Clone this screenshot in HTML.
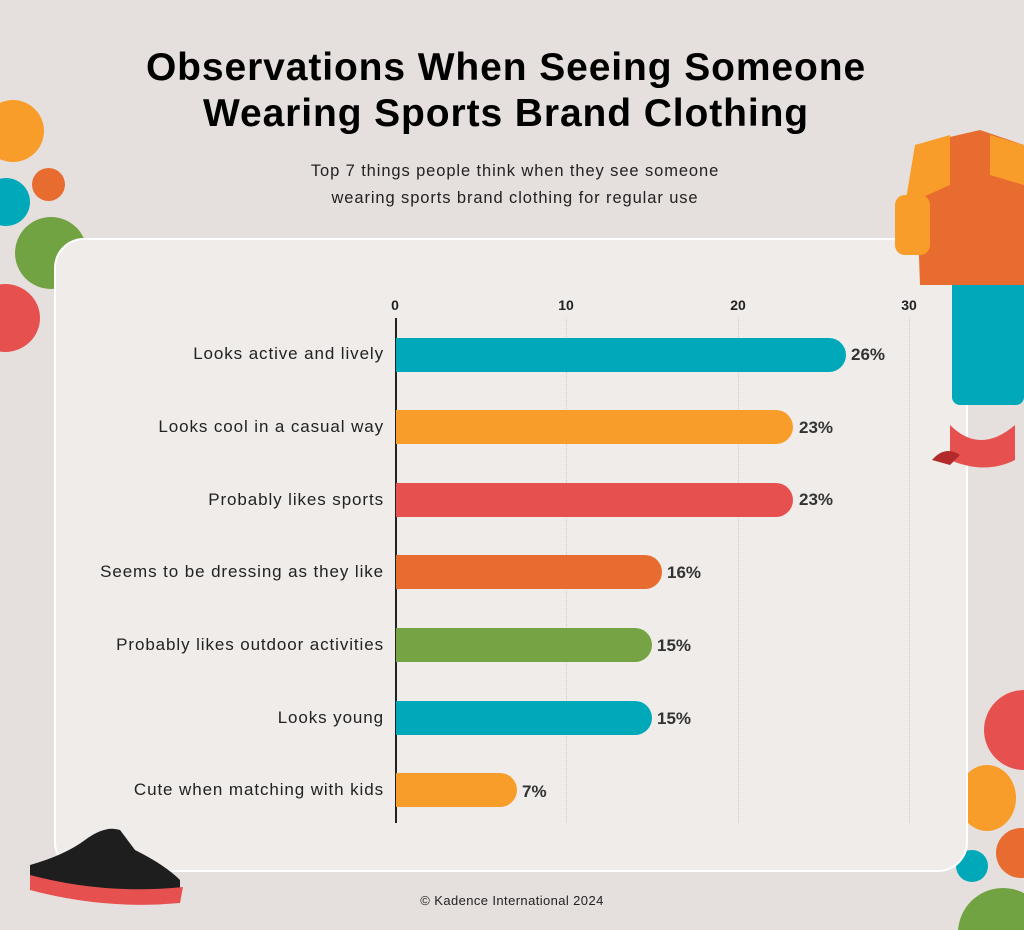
<!DOCTYPE html>
<html><head><meta charset="utf-8"><style>
html,body{margin:0;width:1024px;height:930px;overflow:hidden}
body{background:#e5e0dd;font-family:"Liberation Sans",sans-serif}
#w{position:relative;width:1024px;height:930px;overflow:hidden}
.c{position:absolute;border-radius:50%}
.card{position:absolute;left:54px;top:238px;width:914px;height:634px;background:#efecea;border:2px solid #fff;border-radius:30px;box-sizing:border-box}
h1{position:absolute;top:45px;left:0;width:1012px;text-align:center;margin:0;font-size:39px;line-height:46px;font-weight:bold;color:#000;letter-spacing:0.9px}
.sub{position:absolute;top:158px;left:0;width:1030px;text-align:center;font-size:16.5px;line-height:27px;color:#222;letter-spacing:0.9px}
.lbl{position:absolute;right:640px;font-size:17px;color:#222;text-align:right;white-space:nowrap;letter-spacing:0.9px}
.bar{position:absolute;left:396px;height:34px;border-radius:0 17px 17px 0}
.val{position:absolute;font-size:17px;font-weight:bold;color:#333}
.tk{position:absolute;top:297px;font-size:14px;color:#222;width:30px;text-align:center;font-weight:bold}
.grid{position:absolute;top:318px;height:505px;border-left:1px dotted #ccc}
</style></head><body><div id="w">
<div class="c" style="left:-18px;top:100px;width:62px;height:62px;background:#f99d2a"></div>
<div class="c" style="left:-18px;top:178px;width:48px;height:48px;background:#00a9b9"></div>
<div class="c" style="left:32px;top:168px;width:33px;height:33px;background:#e86c2f"></div>
<div class="c" style="left:15px;top:217px;width:72px;height:72px;background:#72a342"></div>
<div class="c" style="left:-30px;top:284px;width:70px;height:68px;background:#e65150"></div>
<div class="c" style="left:984px;top:690px;width:80px;height:80px;background:#e65150"></div>
<div class="c" style="left:958px;top:765px;width:58px;height:66px;background:#f99d2a"></div>
<div class="c" style="left:996px;top:828px;width:50px;height:50px;background:#e86c2f"></div>
<div class="c" style="left:956px;top:850px;width:32px;height:32px;background:#00a9b9"></div>
<div class="c" style="left:958px;top:888px;width:90px;height:90px;background:#72a342"></div>
<div class="card"></div>
<h1>Observations When Seeing Someone<br>Wearing Sports Brand Clothing</h1>
<div class="sub">Top 7 things people think when they see someone<br>wearing sports brand clothing for regular use</div>
<div class="tk" style="left:380px">0</div><div class="tk" style="left:551px">10</div><div class="tk" style="left:723px">20</div><div class="tk" style="left:894px">30</div>
<div class="grid" style="left:566px"></div><div class="grid" style="left:738px"></div><div class="grid" style="left:909px"></div>
<div style="position:absolute;left:395px;top:318px;width:2px;height:505px;background:#222"></div>
<div class="bar" style="top:338px;width:450px;background:#00a9b9"></div><div class="lbl" style="top:344px">Looks active and lively</div><div class="val" style="left:851px;top:345px">26%</div>
<div class="bar" style="top:410px;width:397px;background:#f99d2a"></div><div class="lbl" style="top:417px">Looks cool in a casual way</div><div class="val" style="left:799px;top:418px">23%</div>
<div class="bar" style="top:483px;width:397px;background:#e65150"></div><div class="lbl" style="top:490px">Probably likes sports</div><div class="val" style="left:799px;top:490px">23%</div>
<div class="bar" style="top:555px;width:266px;background:#e86c2f"></div><div class="lbl" style="top:562px">Seems to be dressing as they like</div><div class="val" style="left:667px;top:563px">16%</div>
<div class="bar" style="top:628px;width:256px;background:#76a343"></div><div class="lbl" style="top:635px">Probably likes outdoor activities</div><div class="val" style="left:657px;top:636px">15%</div>
<div class="bar" style="top:701px;width:256px;background:#00a9b9"></div><div class="lbl" style="top:708px">Looks young</div><div class="val" style="left:657px;top:709px">15%</div>
<div class="bar" style="top:773px;width:121px;background:#f99d2a"></div><div class="lbl" style="top:780px">Cute when matching with kids</div><div class="val" style="left:522px;top:782px">7%</div>
<div style="position:absolute;top:893px;left:0;width:1024px;text-align:center;font-size:13px;color:#222;letter-spacing:0.4px">© Kadence International 2024</div>
<svg style="position:absolute;left:890px;top:125px" width="134" height="350">
<rect x="62" y="130" width="72" height="150" rx="8" fill="#00a9b9"/>
<path d="M25 20 L90 5 L134 20 L134 160 L30 160 Z" fill="#e86c2f"/>
<path d="M25 20 L60 10 L60 60 L15 80 Z" fill="#f99d2a"/>
<path d="M100 10 L134 20 L134 60 L100 50 Z" fill="#f99d2a"/>
<rect x="5" y="70" width="35" height="60" rx="10" fill="#f99d2a"/>
<path d="M60 300 Q90 330 125 300 L125 335 Q95 350 60 335 Z" fill="#e65150"/>
<path d="M42 335 Q55 320 70 330 L60 340 Z" fill="#b22a2a"/>
</svg>
<svg style="position:absolute;left:25px;top:825px" width="160" height="85">
<path d="M5 40 Q40 30 60 15 Q80 0 95 5 L110 25 Q140 40 155 55 L155 70 Q80 80 5 60 Z" fill="#1e1e1e"/>
<path d="M5 50 Q80 70 158 62 L155 78 Q80 85 5 65 Z" fill="#e65150"/>
</svg>
</div></body></html>
